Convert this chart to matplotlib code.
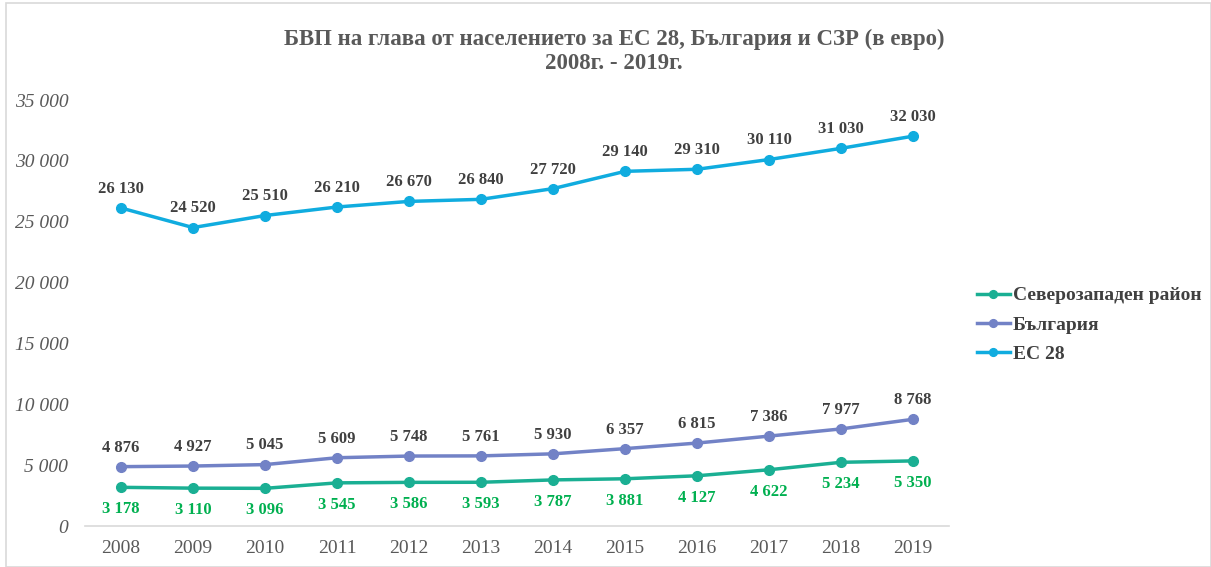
import matplotlib
matplotlib.use("Agg")
import matplotlib.pyplot as plt
from matplotlib.patches import Rectangle

years = ["2008", "2009", "2010", "2011", "2012", "2013", "2014", "2015", "2016", "2017", "2018", "2019"]
eu28 = [26130, 24520, 25510, 26210, 26670, 26840, 27720, 29140, 29310, 30110, 31030, 32030]
bulgaria = [4876, 4927, 5045, 5609, 5748, 5761, 5930, 6357, 6815, 7386, 7977, 8768]
szr = [3178, 3110, 3096, 3545, 3586, 3593, 3787, 3881, 4127, 4622, 5234, 5350]
series_names = ["Северозападен район", "България", "ЕС 28"]
title = "БВП на глава от населението за ЕС 28, България и СЗР (в евро)\n2008г. - 2019г."
yticks = [0, 5000, 10000, 15000, 20000, 25000, 30000, 35000]

def fmt(v):
    return f"{v:,}".replace(",", " ")

plt.rcParams['font.family'] = ['Liberation Serif', 'DejaVu Serif']

fig = plt.figure(figsize=(12.11, 5.67), dpi=100)
fig.patches.append(Rectangle((0.005, 0.0), 0.995, 0.995, transform=fig.transFigure,
                             fill=False, edgecolor='#d9d9d9', linewidth=1.2))
ax = fig.add_axes([0.0702, 0.0723, 0.7135, 0.7513])
x = list(range(len(years)))

c_szr = '#1aaf93'
c_bg = '#7282c6'
c_eu = '#10acdf'

ax.plot(x, szr, color=c_szr, lw=2.5, marker='o', ms=7, label=series_names[0])
ax.plot(x, bulgaria, color=c_bg, lw=2.5, marker='o', ms=7, label=series_names[1])
ax.plot(x, eu28, color=c_eu, lw=2.5, marker='o', ms=7, label=series_names[2])

for xi, v in zip(x, eu28):
    ax.annotate(fmt(v), (xi, v), xytext=(0, 8), textcoords='offset points', ha='center', va='bottom',
                fontsize=12, fontweight='bold', color='#404040')
for xi, v in zip(x, bulgaria):
    ax.annotate(fmt(v), (xi, v), xytext=(0, 8), textcoords='offset points', ha='center', va='bottom',
                fontsize=12, fontweight='bold', color='#404040')
for xi, v in zip(x, szr):
    ax.annotate(fmt(v), (xi, v), xytext=(0, -10), textcoords='offset points', ha='center', va='top',
                fontsize=12, fontweight='bold', color='#00b050')

ax.set_xlim(-0.5, len(years) - 0.5)
ax.set_ylim(0, 35000)
ax.set_xticks(x)
ax.set_xticklabels(years, fontsize=14, color='#595959')
ax.set_yticks(yticks)
ax.set_yticklabels([fmt(t) for t in yticks], fontsize=14, color='#595959', style='italic')
ax.tick_params(axis='both', length=0)
ax.tick_params(axis='x', pad=10)
ax.tick_params(axis='y', pad=12)
for s in ['top', 'right', 'left']:
    ax.spines[s].set_visible(False)
ax.spines['bottom'].set_color('#d9d9d9')
ax.spines['bottom'].set_linewidth(1.2)

fig.text(0.507, 0.949, title, ha='center', va='top', fontsize=16.5, fontweight='bold',
         color='#595959', linespacing=1.2)

handles, labels = ax.get_legend_handles_labels()
leg = fig.legend(handles, labels, loc='upper left', bbox_to_anchor=(0.800, 0.508), frameon=False,
                 prop={'size': 14, 'weight': 'bold'}, handlelength=1.7, handletextpad=0.15,
                 labelspacing=0.6, borderaxespad=0, markerscale=0.8)
for t in leg.get_texts():
    t.set_color('#404040')

fig.savefig('out.png', dpi=100)
